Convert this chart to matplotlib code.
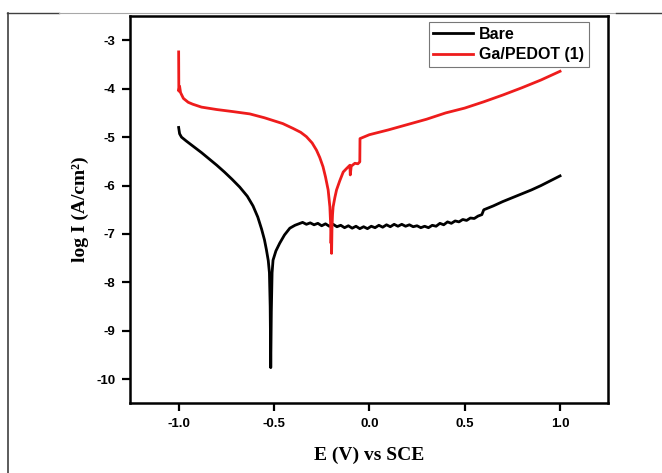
import numpy as np
import matplotlib
matplotlib.use('Agg')
import matplotlib.pyplot as plt
from matplotlib.lines import Line2D

# Tafel data: potential (V vs SCE) and log current density
E_bare = [-1.0, -0.995, -0.985, -0.96, -0.92, -0.88, -0.84, -0.80, -0.76, -0.72,
          -0.68, -0.64, -0.61, -0.585, -0.565, -0.55, -0.54, -0.53, -0.524, -0.52,
          -0.517, -0.514, -0.51, -0.505, -0.49, -0.47, -0.445, -0.417, -0.39,
          -0.35, -0.33, -0.31, -0.29, -0.27, -0.25, -0.23, -0.21, -0.19, -0.17,
          -0.15, -0.13, -0.11, -0.09, -0.07, -0.05, -0.03, -0.01, 0.01, 0.03,
          0.05, 0.07, 0.09, 0.11, 0.13, 0.15, 0.17, 0.19, 0.21, 0.23,
          0.25, 0.27, 0.29, 0.31, 0.33, 0.35, 0.37, 0.39, 0.41, 0.43,
          0.45, 0.47, 0.49, 0.51, 0.53, 0.55, 0.57, 0.59,
          0.60, 0.65, 0.70, 0.75, 0.80, 0.85, 0.90, 0.95, 1.0]
logI_bare = [-4.80, -4.93, -5.00, -5.08, -5.20, -5.32, -5.45, -5.58, -5.72, -5.87,
             -6.03, -6.22, -6.42, -6.65, -6.90, -7.12, -7.32, -7.55, -7.80, -8.50,
             -9.76, -8.60, -7.80, -7.54, -7.35, -7.19, -7.02, -6.88, -6.82,
             -6.76, -6.80, -6.77, -6.81, -6.78, -6.83, -6.79, -6.84, -6.80, -6.85,
             -6.82, -6.87, -6.83, -6.88, -6.84, -6.89, -6.85, -6.89, -6.84, -6.87,
             -6.82, -6.86, -6.81, -6.85, -6.80, -6.84, -6.80, -6.84, -6.81, -6.85,
             -6.83, -6.87, -6.84, -6.87, -6.82, -6.84, -6.78, -6.81, -6.75, -6.78,
             -6.73, -6.75, -6.70, -6.72, -6.67, -6.68, -6.63, -6.60,
             -6.50, -6.42, -6.33, -6.25, -6.17, -6.09, -6.00, -5.90, -5.80]

E_ga = [-1.0, -0.999, -0.995, -0.99, -0.975, -0.95, -0.926, -0.88, -0.80, -0.72,
        -0.627, -0.55, -0.454, -0.40, -0.36, -0.33, -0.30, -0.277, -0.26, -0.243,
        -0.23, -0.216, -0.207, -0.203, -0.201, -0.199, -0.198, -0.196, -0.193, -0.19,
        -0.181, -0.172, -0.155, -0.137, -0.12, -0.102, -0.10, -0.095, -0.076, -0.06,
        -0.05, -0.049, 0.0, 0.1, 0.2, 0.3, 0.4, 0.5, 0.6, 0.7, 0.8, 0.9, 1.0]
logI_ga = [-3.24, -4.05, -3.95, -4.08, -4.20, -4.28, -4.32, -4.38, -4.43, -4.47,
           -4.52, -4.60, -4.72, -4.82, -4.90, -4.99, -5.12, -5.27, -5.42, -5.61,
           -5.82, -6.09, -6.44, -6.80, -7.19, -6.95, -7.40, -6.90, -6.60, -6.44,
           -6.25, -6.09, -5.90, -5.72, -5.65, -5.58, -5.78, -5.60, -5.54, -5.55,
           -5.51, -5.03, -4.95, -4.85, -4.74, -4.63, -4.50, -4.40, -4.27, -4.13,
           -3.98, -3.82, -3.64]

labels = ['Bare', 'Ga/PEDOT (1)']
xticks = [-1.0, -0.5, 0.0, 0.5, 1.0]
yticks = [-3, -4, -5, -6, -7, -8, -9, -10]

plt.rcParams['font.family'] = 'Liberation Sans'
plt.rcParams['font.weight'] = 'bold'
plt.rcParams['axes.unicode_minus'] = False

fig = plt.figure(figsize=(6.62, 4.73), dpi=100)
ax = fig.add_axes([0.1964, 0.148, 0.7216, 0.818])

ax.plot(E_bare, logI_bare, color='black', lw=2.0, label=labels[0])
ax.plot(E_ga, logI_ga, color='#ee1c1c', lw=2.0, label=labels[1])

ax.set_xlim(-1.255, 1.25)
ax.set_ylim(-10.49, -2.5)
ax.set_xticks(xticks)
ax.set_xticklabels(['%.1f' % v for v in xticks])
ax.set_yticks(yticks)
ax.tick_params(direction='out', length=5.5, width=1.6, labelsize=9.5, pad=5)
for sp in ax.spines.values():
    sp.set_linewidth(1.8)

ax.set_xlabel('E (V) vs SCE', family='Liberation Serif', fontweight='bold',
              fontsize=14, labelpad=12)
ax.set_ylabel('log I (A/cm\u00b2)', family='Liberation Serif', fontweight='bold',
              fontsize=14, labelpad=5)

leg = ax.legend(loc='upper right', bbox_to_anchor=(0.960, 0.9845), borderaxespad=0,
                fontsize=11.5, frameon=True, fancybox=False, handlelength=2.5,
                handletextpad=0.35, borderpad=0.3, labelspacing=0.35)
leg.get_frame().set_edgecolor('#555555')
leg.get_frame().set_linewidth(0.8)
for line in leg.get_lines():
    line.set_linewidth(2.0)

# partial outer frame around the figure
W, H = 662.0, 473.0
fig.add_artist(Line2D([8 / W, 8 / W], [1 - 13 / H, 0], color='#404040', lw=1.2))
fig.add_artist(Line2D([7 / W, 59 / W], [1 - 13 / H] * 2, color='#404040', lw=1.0))
fig.add_artist(Line2D([59 / W, 615 / W], [1 - 13 / H] * 2, color='#a8a8a8', lw=0.8))
fig.add_artist(Line2D([616 / W, 1], [1 - 13 / H] * 2, color='#404040', lw=1.0))

fig.savefig('out.png', dpi=100)
